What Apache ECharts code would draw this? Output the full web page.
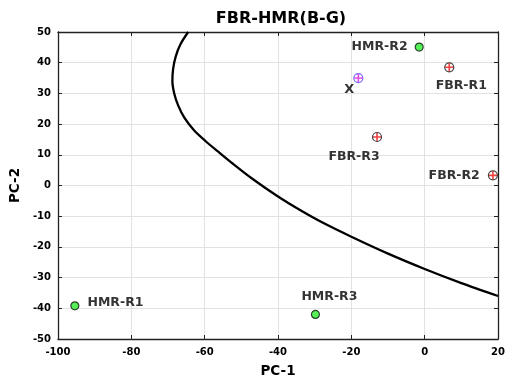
<!DOCTYPE html>
<html><head><meta charset="utf-8">
<script src="https://cdn.jsdelivr.net/npm/echarts@6/dist/echarts.min.js"></script>
<style>html,body{margin:0;padding:0;background:#fff}#c{width:508px;height:383px}</style>
</head><body><div id="c"></div>
<script>
const titleText = 'FBR-HMR(B-G)';
const xName = 'PC-1', yName = 'PC-2';
const hmrNames = ['HMR-R1', 'HMR-R2', 'HMR-R3'];
const hmrX = [-95.4, -1.5, -29.8];
const hmrY = [-39.2, 45.1, -42];
const fbrNames = ['FBR-R1', 'FBR-R2', 'FBR-R3'];
const fbrX = [6.7, 18.6, -13];
const fbrY = [38.5, 3.3, 15.8];
const unknownX = [-18.1];
const unknownY = [35];
const unknownLabel = 'X';
const curveX = [-64.5,-66.6,-67.9,-68.6,-68.8,-68.3,-67.2,-65.5,-62.9,-59.8,-56.3,-52.2,-47,-40,-34,-28,-20,-10,0,10,20];
const curveY = [50,46,42,38,34,30,26,22,18,14.5,11,7,2.2,-3.6,-8,-12,-16.7,-22.2,-27.2,-31.8,-36];

const font = 'DejaVu Sans, sans-serif';
const plus = 'path://M4,0H6V4H10V6H6V10H4V6H0V4H4Z';
const hmrPos = ['right','left','top'];
const hmrOff = [[3,-3],[-2,0],[14,-2]];
const fbrPos = ['bottom','left','bottom'];
const fbrOff = [[12,2],[-3,0],[-23,3]];

const chart = echarts.init(document.getElementById('c'));
const axLine = {show:true, onZero:false, lineStyle:{color:'#222', width:1.3}};
const axTick = {show:true, inside:true, length:4, lineStyle:{color:'#222'}};
const lbl = {fontFamily:font, fontWeight:'bold', fontSize:12.5, color:'#000'};
chart.setOption({
  animation:false,
  title:{text:titleText, left:276, top:6, textAlign:'center', textStyle:{fontFamily:font, fontWeight:'bold', fontSize:16, color:'#000'}},
  grid:{left:53, right:9, top:32, bottom:42},
  xAxis:[
    {type:'value', min:-100, max:20, interval:20, position:'bottom', name:xName, nameLocation:'middle', nameGap:25,
     nameTextStyle:{fontFamily:font, fontWeight:'bold', fontSize:13.5, color:'#000'},
     axisLine:axLine, axisTick:axTick,
     axisLabel:{fontFamily:font, fontWeight:'bold', fontSize:10, color:'#000', margin:8},
     splitLine:{show:true, lineStyle:{color:'#e2e2e2'}}},
    {type:'value', min:-100, max:20, interval:20, position:'top',
     axisLine:axLine, axisTick:axTick, axisLabel:{show:false}, splitLine:{show:false}}
  ],
  yAxis:[
    {type:'value', min:-50, max:50, interval:10, position:'left', name:yName, nameLocation:'middle', nameGap:31,
     nameTextStyle:{fontFamily:font, fontWeight:'bold', fontSize:13.5, color:'#000'},
     axisLine:axLine, axisTick:axTick,
     axisLabel:{fontFamily:font, fontWeight:'bold', fontSize:10, color:'#000', margin:7},
     splitLine:{show:true, lineStyle:{color:'#e2e2e2'}}},
    {type:'value', min:-50, max:50, interval:10, position:'right',
     axisLine:axLine, axisTick:axTick, axisLabel:{show:false}, splitLine:{show:false}}
  ],
  series:[
    {type:'line', data:curveX.map((x,i)=>[x,curveY[i]]), smooth:0.3, showSymbol:false, symbol:'none',
     lineStyle:{color:'#000', width:2.3}, z:2},
    {type:'scatter', data:hmrX.map((x,i)=>({value:[x,hmrY[i]], name:hmrNames[i],
      label:{position:hmrPos[i], offset:hmrOff[i]}})),
     symbol:'circle', symbolSize:8, itemStyle:{color:'#2cee2c', borderColor:'#111', borderWidth:1.2},
     label:Object.assign({show:true, formatter:p=>p.name}, lbl), z:5},
    {type:'scatter', data:fbrX.map((x,i)=>({value:[x,fbrY[i]], name:fbrNames[i],
      label:{position:fbrPos[i], offset:fbrOff[i]}})),
     symbol:'circle', symbolSize:9, itemStyle:{color:'#fff', borderColor:'#111', borderWidth:1.2},
     label:Object.assign({show:true, formatter:p=>p.name}, lbl), z:5},
    {type:'scatter', data:fbrX.map((x,i)=>[x,fbrY[i]]), symbol:plus, symbolSize:8,
     itemStyle:{color:'#ee1111'}, z:6, silent:true},
    {type:'scatter', data:unknownX.map((x,i)=>({value:[x,unknownY[i]], name:unknownLabel})),
     symbol:'circle', symbolSize:9, itemStyle:{color:'#fff', borderColor:'#5544ff', borderWidth:1.2},
     label:Object.assign({show:true, position:'bottom', offset:[-9,-5], formatter:p=>p.name}, lbl, {fontSize:13}), z:5},
    {type:'scatter', data:unknownX.map((x,i)=>[x,unknownY[i]]), symbol:plus, symbolSize:8,
     itemStyle:{color:'#e020e0'}, z:6, silent:true}
  ]
});
</script></body></html>
